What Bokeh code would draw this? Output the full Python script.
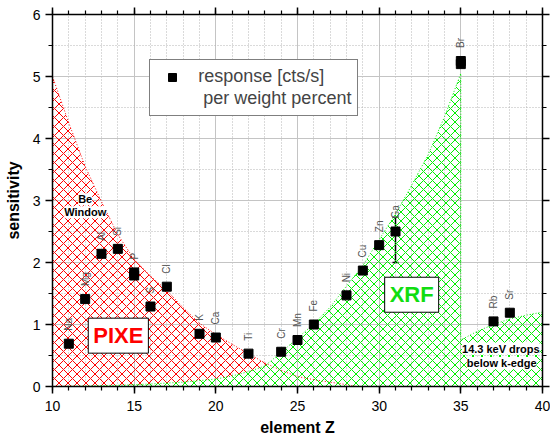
import math
from bokeh.plotting import figure
from bokeh.models import (Range1d, LinearAxis, SingleIntervalTicker, Legend, LegendItem,
                          Label, Whisker, TeeHead, ColumnDataSource, CustomJSTickFormatter)
from bokeh.embed import file_html
from bokeh.resources import INLINE
from bokeh.core.properties import value

FONT = "Liberation Sans"

# ---- measured points (element Z, sensitivity) ----
point_z = [11, 12, 13, 14, 15, 15, 16, 17, 19, 20, 22, 24, 25, 26, 28, 29, 30, 31, 35, 35, 37, 38]
point_s = [0.69, 1.41, 2.14, 2.22, 1.84, 1.79, 1.29, 1.61, 0.85, 0.79, 0.53, 0.56, 0.75, 1.00,
           1.47, 1.87, 2.28, 2.50, 5.25, 5.20, 1.05, 1.19]

# ---- element labels ----
label_names = ["Na", "Mg", "Al", "Si", "P", "S", "Cl", "K", "Ca", "Ti", "Cr", "Mn", "Fe",
               "Ni", "Cu", "Zn", "Ga", "Br", "Rb", "Sr"]
label_z = [11, 12, 13, 14, 15, 16, 17, 19, 20, 22, 24, 25, 26, 28, 29, 30, 31, 35, 37, 38]
label_s = [0.69, 1.41, 2.14, 2.22, 1.84, 1.29, 1.61, 0.85, 0.79, 0.53, 0.56, 0.75, 1.00,
           1.47, 1.87, 2.28, 2.50, 5.25, 1.05, 1.19]

# ---- error bar on Ga ----
err_z = [31]
err_low = [2.00]
err_high = [2.73]

# ---- PIXE sensitivity envelope ----
pixe_z = [10, 11, 12, 13, 14, 15, 16, 17, 18, 19, 20, 21, 22, 23, 24, 25, 26, 27, 28, 28.6]
pixe_s = [5.0, 4.25, 3.55, 2.98, 2.45, 2.05, 1.78, 1.55, 1.27, 1.02, 0.84, 0.68, 0.53, 0.38,
          0.26, 0.16, 0.11, 0.07, 0.03, 0.0]

# ---- XRF sensitivity envelope ----
xrf_z = [10, 12, 14, 16, 18, 20, 21, 22, 23, 24, 25, 26, 27, 28, 29, 30, 31, 32, 33, 34, 35,
         35, 35.5, 36, 37, 38, 39, 40]
xrf_s = [0.0, 0.01, 0.02, 0.04, 0.07, 0.12, 0.17, 0.24, 0.33, 0.55, 0.78, 1.01, 1.28, 1.62,
         1.95, 2.37, 2.78, 3.25, 3.74, 4.35, 5.05, 0.75, 0.82, 0.89, 1.00, 1.09, 1.15, 1.20]

W, H = 550, 440
BL, BR, BT, BB = 52, 8, 14, 54
FW, FH = W - BL - BR, H - BT - BB

p = figure(x_range=Range1d(10, 40), y_range=Range1d(0, 6),
           width=W, height=H,
           output_backend="svg", toolbar_location=None,
           x_axis_label="element Z", y_axis_label="sensitivity",
           min_border_left=BL, min_border_right=BR, min_border_top=BT, min_border_bottom=BB)
p.outline_line_color = None
p.background_fill_color = "white"
p.border_fill_color = "white"

xt = SingleIntervalTicker(interval=5, num_minor_ticks=5)
yt = SingleIntervalTicker(interval=1, num_minor_ticks=2)
p.xaxis.ticker = xt
p.yaxis.ticker = yt
p.xgrid.ticker = xt
p.ygrid.ticker = yt

for g in (p.xgrid, p.ygrid):
    g.grid_line_color = "#c4c4c4"
    g.grid_line_width = 1
    g.minor_grid_line_color = "#b4b4b4"
    g.minor_grid_line_dash = "1 2"
    g.minor_grid_line_width = 1


def style_axis(ax, labels=True):
    ax.axis_line_width = 1.5
    ax.axis_line_color = "black"
    ax.major_tick_line_width = 1.5
    ax.minor_tick_line_width = 1.2
    ax.major_tick_out = 7
    ax.major_tick_in = 0
    ax.minor_tick_out = 4
    ax.minor_tick_in = 0
    ax.major_label_text_font = FONT
    ax.major_label_text_font_size = "14px"
    ax.major_label_text_color = "black"
    ax.major_label_standoff = 5 if labels else 0
    ax.axis_label_text_font = FONT
    ax.axis_label_text_font_size = "16px"
    ax.axis_label_text_font_style = "bold"
    ax.axis_label_text_color = "black"
    if not labels:
        ax.formatter = CustomJSTickFormatter(code="return ''")


style_axis(p.xaxis[0])
style_axis(p.yaxis[0])
p.xaxis[0].major_label_standoff = 7
p.xaxis[0].axis_label_standoff = 5
p.yaxis[0].axis_label_standoff = 8

top = LinearAxis(ticker=xt)
style_axis(top, labels=False)
p.add_layout(top, "above")
right = LinearAxis(ticker=yt)
style_axis(right, labels=False)
p.add_layout(right, "right")

# hatched envelopes
px = pixe_z + [pixe_z[-1], pixe_z[0]]
py = pixe_s + [0, 0]
p.patch(px, py, fill_color=None, line_color=None,
        hatch_pattern="diagonal_cross", hatch_color="red", hatch_scale=9, hatch_weight=1)
p.line(pixe_z, pixe_s, line_color="red", line_dash="1 2", line_width=1)

gx = xrf_z + [xrf_z[-1], xrf_z[0]]
gy = xrf_s + [0, 0]
p.patch(gx, gy, fill_color=None, line_color=None,
        hatch_pattern="diagonal_cross", hatch_color="#00ee00", hatch_scale=9, hatch_weight=1)
p.line(xrf_z, xrf_s, line_color="#00ee00", line_dash="1 2", line_width=1)

# error bar
err_src = ColumnDataSource(dict(base=err_z, lower=err_low, upper=err_high))
p.add_layout(Whisker(source=err_src, base="base", lower="lower", upper="upper",
                     dimension="height", line_color="black", line_width=1.5,
                     upper_head=TeeHead(size=6, line_color="black", line_width=1.5),
                     lower_head=TeeHead(size=6, line_color="black", line_width=1.5)))

# points
r_pts = p.scatter(point_z, point_s, marker="square", size=9, color="black")
r_blank = p.scatter([], [], marker="square", size=9, alpha=0)

# element labels
p.text(label_z, label_s, text=label_names, angle=math.pi / 2,
       text_align="left", text_baseline="middle", y_offset=-13,
       text_font=value(FONT), text_font_size="10px", text_color="#555555")

# legend
lx = (149 - 51.7) / 16.33 * FW / 30
ly = (386 - 116) / 62 * FH / 6
legend = Legend(items=[LegendItem(label="response [cts/s]", renderers=[r_pts]),
                       LegendItem(label=" per weight percent", renderers=[r_blank])],
                location=(lx, ly), border_line_color="black", border_line_width=1,
                background_fill_color="white", background_fill_alpha=1,
                label_text_font=FONT, label_text_font_size="18px",
                padding=6, spacing=1, glyph_width=32, glyph_height=20,
                label_height=20, label_standoff=10, margin=0)
p.add_layout(legend, "center")

# annotations
p.add_layout(Label(x=14.03, y=0.82, text="PIXE", text_align="center", text_baseline="middle",
                   text_font=FONT, text_font_size="22px", text_font_style="bold",
                   text_color="red", background_fill_color="white",
                   border_line_color="black", border_line_width=1, padding=5))
p.add_layout(Label(x=31.99, y=1.48, text="XRF", text_align="center", text_baseline="middle",
                   text_font=FONT, text_font_size="22px", text_font_style="bold",
                   text_color="#11dd11", background_fill_color="white",
                   border_line_color="black", border_line_width=1, padding=5))
for (tx, ty, tt) in [(12.0, 3.02, "Be"), (12.0, 2.81, "Window"),
                     (37.45, 0.61, "14.3 keV drops"), (37.5, 0.38, "below k-edge")]:
    p.add_layout(Label(x=tx, y=ty, text=tt, text_align="center", text_baseline="middle",
                       text_font=FONT, text_font_size="11px", text_font_style="bold",
                       text_color="black", background_fill_color="white", padding=0))

open("out.html", "w").write(file_html(p, INLINE))
